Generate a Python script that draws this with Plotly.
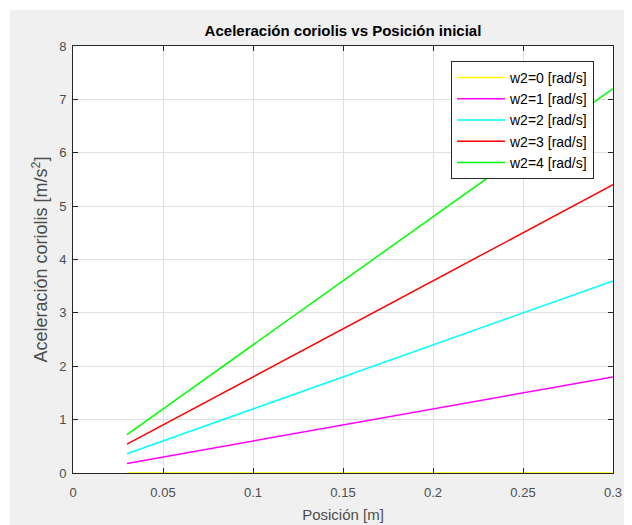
import plotly.graph_objects as go

# Data
posicion = [0.03, 0.3]
series_names = ["w2=0 [rad/s]", "w2=1 [rad/s]", "w2=2 [rad/s]", "w2=3 [rad/s]", "w2=4 [rad/s]"]
acc_w0 = [0.0, 0.0]
acc_w1 = [0.18, 1.8]
acc_w2 = [0.36, 3.6]
acc_w3 = [0.54, 5.4]
acc_w4 = [0.72, 7.2]
colors = ["#ffff00", "#ff00ff", "#00ffff", "#ff0000", "#00ff00"]

x_ticks = [0, 0.05, 0.1, 0.15, 0.2, 0.25, 0.3]
y_ticks = [0, 1, 2, 3, 4, 5, 6, 7, 8]

# page body has an 8px margin; work in page coordinates and subtract it
OFF = 8
W, H = 632, 525
plot_left, plot_top, plot_right, plot_bottom = 73, 46, 613, 473
L = plot_left - OFF
T = plot_top - OFF
R = W - (plot_right - OFF)
B = H - (plot_bottom - OFF)
pw, ph = W - L - R, H - T - B

fig = go.Figure()
for name, ys, c in zip(series_names, [acc_w0, acc_w1, acc_w2, acc_w3, acc_w4], colors):
    fig.add_trace(go.Scatter(x=posicion, y=ys, mode="lines", name=name,
                             line=dict(color=c, width=1.5)))

font_fam = "Liberation Sans, Arial, Helvetica, sans-serif"
axis_col = "#262626"
tick_col = "#4d4d4d"

def px2paper_x(px):  # page px -> paper
    return (px - OFF - L) / pw

def px2paper_y(py):
    return (H - B - (py - OFF)) / ph

shapes = [
    dict(type="rect", xref="paper", yref="paper",
         x0=px2paper_x(0), x1=px2paper_x(W + 20), y0=px2paper_y(10), y1=px2paper_y(0),
         fillcolor="white", line=dict(width=0), layer="below"),
    dict(type="rect", xref="paper", yref="paper",
         x0=px2paper_x(0), x1=px2paper_x(10), y0=px2paper_y(H + 20), y1=px2paper_y(0),
         fillcolor="white", line=dict(width=0), layer="below"),
]

fig.update_layout(
    width=W, height=H,
    margin=dict(l=L, r=R, t=T, b=B, pad=0),
    paper_bgcolor="#f0f0f0",
    plot_bgcolor="white",
    font=dict(family=font_fam, size=13, color=tick_col),
    title=dict(text="<b>Aceleración coriolis vs Posición inicial</b>",
               font=dict(family=font_fam, size=15, color="#000000"),
               x=0.5, xref="paper", xanchor="center",
               y=1 - (31 - OFF) / H, yref="container", yanchor="middle"),
    showlegend=True,
    legend=dict(x=px2paper_x(451), y=px2paper_y(61), xanchor="left", yanchor="top",
                bgcolor="white", bordercolor=axis_col, borderwidth=1,
                font=dict(family=font_fam, size=14, color="#000000"),
                tracegroupgap=0, itemwidth=48),
    shapes=shapes,
    xaxis=dict(range=[0, 0.3], tickvals=x_ticks, ticktext=[str(v) for v in x_ticks],
               showgrid=True, gridcolor="#dfdfdf", gridwidth=1,
               zeroline=False, showline=True, linecolor=axis_col, linewidth=1,
               mirror="ticks", ticks="inside", ticklen=5, tickcolor=axis_col,
               ticklabelstandoff=7,
               tickfont=dict(size=13, color=tick_col),
               title=dict(text="Posición [m]", font=dict(size=15, color=tick_col), standoff=10)),
    yaxis=dict(range=[0, 8], tickvals=y_ticks,
               showgrid=True, gridcolor="#dfdfdf", gridwidth=1,
               zeroline=False, showline=True, linecolor=axis_col, linewidth=1,
               mirror="ticks", ticks="inside", ticklen=5, tickcolor=axis_col,
               ticklabelstandoff=3,
               tickfont=dict(size=13, color=tick_col),
               title=dict(text="Aceleración coriolis [m/s<sup>2</sup>]",
                          font=dict(size=18, color=tick_col), standoff=6)),
)

fig.write_html("out.html")
